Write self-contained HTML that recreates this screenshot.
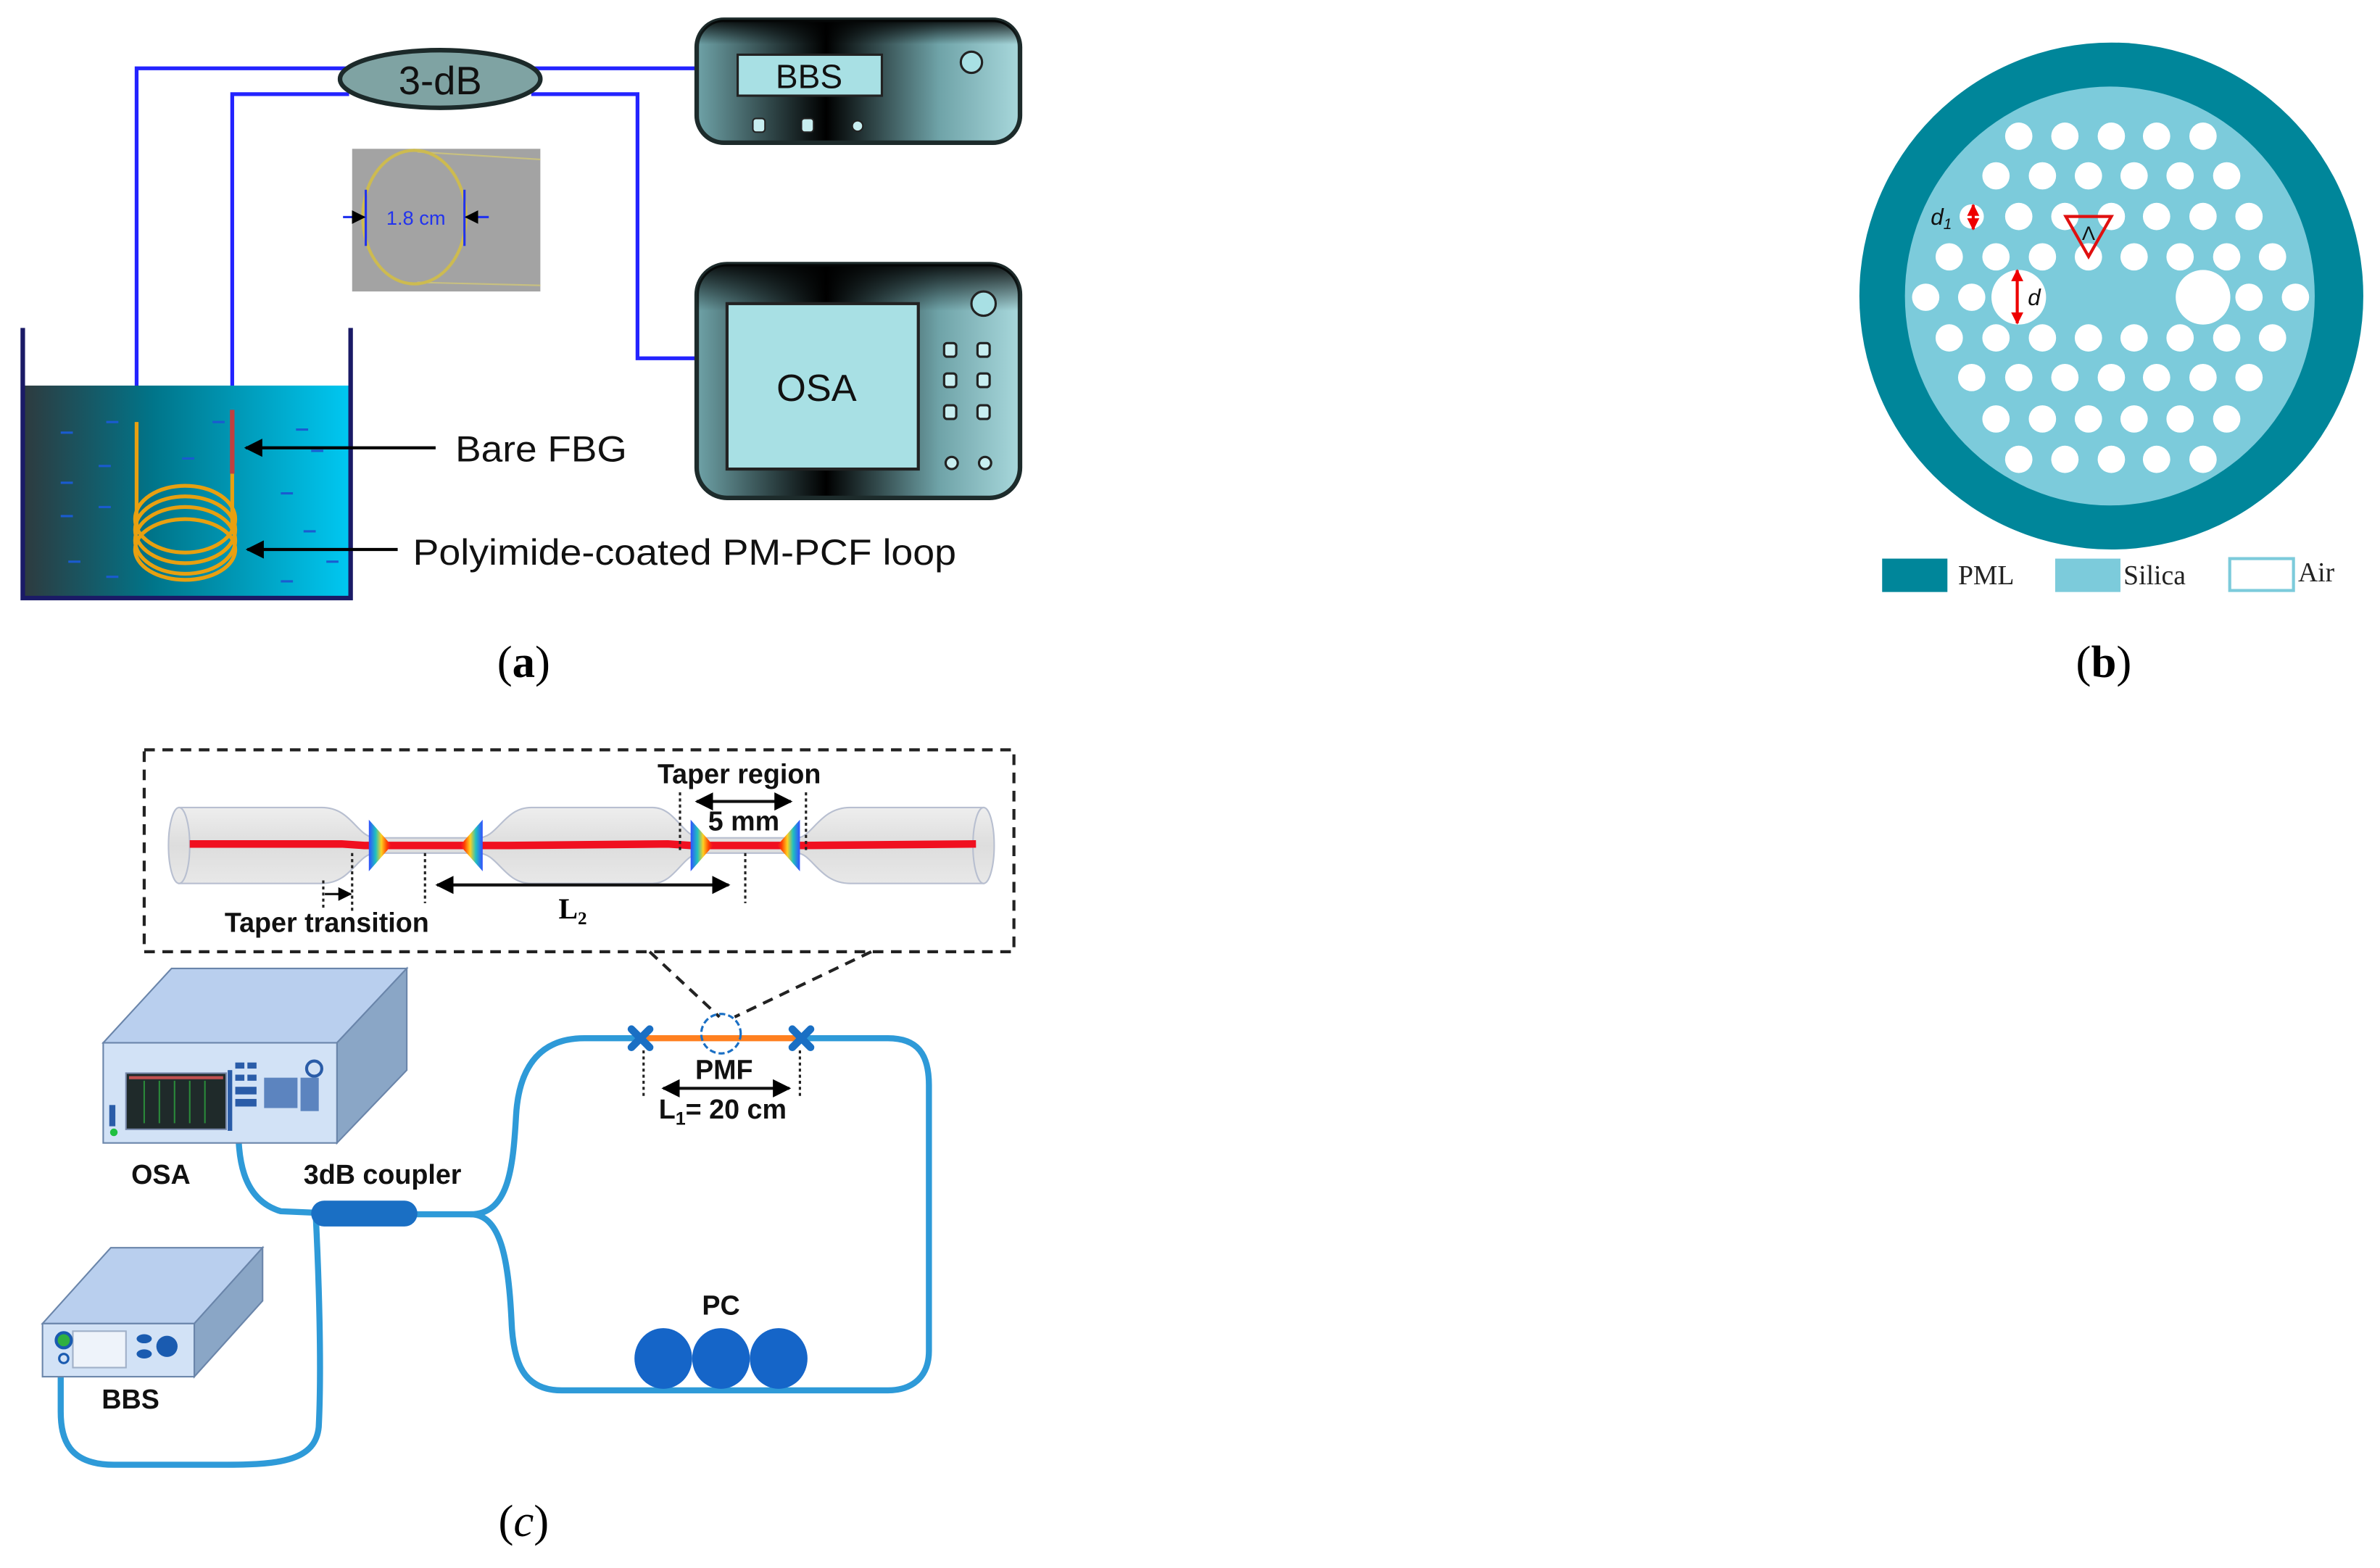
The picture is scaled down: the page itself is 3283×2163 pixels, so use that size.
<!DOCTYPE html>
<html><head><meta charset="utf-8"><style>html,body{margin:0;padding:0;background:#fff}svg{display:block}</style></head>
<body>
<svg width="3283" height="2163" viewBox="0 0 1568 1033" xmlns="http://www.w3.org/2000/svg" font-family="Liberation Sans, sans-serif">
<defs>
<linearGradient id="dev" x1="0" x2="1" y1="0" y2="0"><stop offset="0" stop-color="#6fa3a8"/><stop offset="0.4" stop-color="#000"/><stop offset="0.75" stop-color="#6fa3a8"/><stop offset="1" stop-color="#a8d8dc"/></linearGradient>
<linearGradient id="dev2" x1="0" x2="0" y1="0" y2="1"><stop offset="0" stop-color="#000" stop-opacity="0.9"/><stop offset="0.2" stop-color="#000" stop-opacity="0"/></linearGradient>
<linearGradient id="water" x1="0" x2="1"><stop offset="0" stop-color="#2e3a3e"/><stop offset="0.4" stop-color="#00758a"/><stop offset="1" stop-color="#00c8f2"/></linearGradient>
<linearGradient id="glass" x1="0" x2="0" y1="0" y2="1"><stop offset="0" stop-color="#eee"/><stop offset="0.5" stop-color="#ddd"/><stop offset="1" stop-color="#e8e8e8"/></linearGradient>
<linearGradient id="rb" x1="0" x2="1"><stop offset="0" stop-color="#3050ff"/><stop offset="0.3" stop-color="#20c0c0"/><stop offset="0.55" stop-color="#ffd020"/><stop offset="0.8" stop-color="#ff4000"/><stop offset="1" stop-color="#ff2020" stop-opacity="0"/></linearGradient>
<linearGradient id="rb2" x1="1" x2="0"><stop offset="0" stop-color="#3050ff"/><stop offset="0.3" stop-color="#20c0c0"/><stop offset="0.55" stop-color="#ffd020"/><stop offset="0.8" stop-color="#ff4000"/><stop offset="1" stop-color="#ff2020" stop-opacity="0"/></linearGradient>
<marker id="ah" viewBox="0 0 10 10" refX="9" refY="5" markerWidth="6" markerHeight="6" orient="auto-start-reverse"><path d="M0,0 L10,5 L0,10 z" fill="#000"/></marker>
<marker id="ar" viewBox="0 0 10 10" refX="9" refY="5" markerWidth="4" markerHeight="4" orient="auto-start-reverse"><path d="M0,0 L10,5 L0,10 z" fill="#e00"/></marker>
</defs>

<!-- ===== (a) ===== -->
<g fill="none" stroke="#2323ff" stroke-width="2.5">
<polyline points="90,300 90,45 230,45"/>
<polyline points="350,45 458,45"/>
<polyline points="153,300 153,62 230,62"/>
<polyline points="350,62 420,62 420,236 458,236"/>
</g>
<ellipse cx="290" cy="52" rx="66" ry="19" fill="#7fa3a3" stroke="#1c2a2a" stroke-width="3"/>
<text x="290" y="62" font-size="26" text-anchor="middle" fill="#111">3-dB</text>

<rect x="459" y="13" width="213" height="81" rx="18" fill="url(#dev)" stroke="#1d2b2b" stroke-width="3"/>
<rect x="459" y="13" width="213" height="81" rx="18" fill="url(#dev2)"/>
<rect x="486" y="36" width="95" height="27" fill="#a8e0e4" stroke="#222" stroke-width="1.5"/>
<text x="533" y="58" font-size="22" text-anchor="middle" fill="#111">BBS</text>
<circle cx="640" cy="41" r="7" fill="#a8e0e4" stroke="#222" stroke-width="1.5"/>
<rect x="496" y="78" width="8" height="9" rx="2" fill="#c8eef0" stroke="#222"/>
<rect x="528" y="78" width="8" height="9" rx="2" fill="#c8eef0" stroke="#222"/>
<circle cx="565" cy="83" r="3.5" fill="#c8eef0" stroke="#222"/>

<rect x="459" y="174" width="213" height="154" rx="20" fill="url(#dev)" stroke="#1d2b2b" stroke-width="3"/>
<rect x="459" y="174" width="213" height="154" rx="20" fill="url(#dev2)"/>
<rect x="479" y="200" width="126" height="109" fill="#a8e0e4" stroke="#222" stroke-width="2"/>
<text x="538" y="264" font-size="25" text-anchor="middle" fill="#111">OSA</text>
<circle cx="648" cy="200" r="8" fill="#a8e0e4" stroke="#222" stroke-width="1.5"/>
<g fill="#c8eef0" stroke="#222" stroke-width="1.5">
<rect x="622" y="226" width="8" height="9" rx="2"/><rect x="644" y="226" width="8" height="9" rx="2"/>
<rect x="622" y="246" width="8" height="9" rx="2"/><rect x="644" y="246" width="8" height="9" rx="2"/>
<rect x="622" y="267" width="8" height="9" rx="2"/><rect x="644" y="267" width="8" height="9" rx="2"/>
<circle cx="627" cy="305" r="4"/><circle cx="649" cy="305" r="4"/>
</g>

<rect x="232" y="98" width="124" height="94" fill="#a3a3a3"/>
<path d="M275,100 L356,105 M275,186 L356,188" stroke="#c8c080" stroke-width="1"/>
<ellipse cx="273" cy="143" rx="34" ry="44" fill="none" stroke="#cdbb50" stroke-width="2"/>
<g stroke="#2233ee" stroke-width="1.5" fill="none">
<line x1="241" y1="125" x2="241" y2="162"/><line x1="306" y1="125" x2="306" y2="162"/>
<line x1="226" y1="143" x2="240" y2="143" marker-end="url(#ah)"/>
<line x1="322" y1="143" x2="307" y2="143" marker-end="url(#ah)"/>
</g>
<text x="274" y="148" font-size="13" fill="#2233ee" text-anchor="middle">1.8 cm</text>

<rect x="15" y="254" width="216" height="140" fill="url(#water)"/>
<g stroke="#1a1a66" stroke-width="3" fill="none"><polyline points="15,216 15,394 231,394 231,216"/></g>
<g stroke="#1a5bd0" stroke-width="1.5">
<line x1="40" y1="285" x2="48" y2="285"/><line x1="70" y1="278" x2="78" y2="278"/><line x1="140" y1="278" x2="148" y2="278"/><line x1="195" y1="283" x2="203" y2="283"/>
<line x1="40" y1="318" x2="48" y2="318"/><line x1="65" y1="307" x2="73" y2="307"/><line x1="120" y1="302" x2="128" y2="302"/><line x1="205" y1="297" x2="213" y2="297"/>
<line x1="40" y1="340" x2="48" y2="340"/><line x1="65" y1="334" x2="73" y2="334"/><line x1="185" y1="325" x2="193" y2="325"/><line x1="200" y1="350" x2="208" y2="350"/>
<line x1="45" y1="370" x2="53" y2="370"/><line x1="70" y1="380" x2="78" y2="380"/><line x1="185" y1="383" x2="193" y2="383"/><line x1="215" y1="370" x2="223" y2="370"/>
</g>
<g stroke="#e8a010" stroke-width="2.5" fill="none">
<line x1="90" y1="278" x2="90" y2="352"/><line x1="153" y1="312" x2="153" y2="352"/>
<ellipse cx="122" cy="342" rx="33" ry="22"/><ellipse cx="122" cy="349" rx="33" ry="22"/><ellipse cx="122" cy="356" rx="33" ry="22"/><ellipse cx="122" cy="362" rx="33" ry="20"/>
</g>
<line x1="153" y1="270" x2="153" y2="312" stroke="#c04040" stroke-width="3"/>
<line x1="287" y1="295" x2="162" y2="295" stroke="#000" stroke-width="2" marker-end="url(#ah)"/>
<text x="300" y="304" font-size="24" fill="#111" textLength="113" lengthAdjust="spacingAndGlyphs">Bare FBG</text>
<line x1="262" y1="362" x2="163" y2="362" stroke="#000" stroke-width="2" marker-end="url(#ah)"/>
<text x="272" y="372" font-size="24" fill="#111" textLength="358" lengthAdjust="spacingAndGlyphs">Polyimide-coated PM-PCF loop</text>
<text x="345" y="446" font-size="30" text-anchor="middle" font-family="Liberation Serif, serif">(<tspan font-weight="bold">a</tspan>)</text>

<!-- ===== (b) ===== -->
<ellipse cx="1391" cy="195" rx="166" ry="167" fill="#00869a"/>
<ellipse cx="1390" cy="195" rx="135" ry="138" fill="#7ccbdb"/>
<g fill="#fff">
<g transform="translate(0,89.7)"><circle cx="1330" r="9"/><circle cx="1360.4" r="9"/><circle cx="1391" r="9"/><circle cx="1420.8" r="9"/><circle cx="1451.4" r="9"/></g>
<g transform="translate(0,115.8)"><circle cx="1315" r="9"/><circle cx="1345.6" r="9"/><circle cx="1375.9" r="9"/><circle cx="1406" r="9"/><circle cx="1436.3" r="9"/><circle cx="1467" r="9"/></g>
<g transform="translate(0,142.6)"><circle cx="1299" r="8"/><circle cx="1330" r="9"/><circle cx="1360.4" r="9"/><circle cx="1391" r="9"/><circle cx="1420.8" r="9"/><circle cx="1451.4" r="9"/><circle cx="1481.7" r="9"/></g>
<g transform="translate(0,169.2)"><circle cx="1284.2" r="9"/><circle cx="1315" r="9"/><circle cx="1345.6" r="9"/><circle cx="1375.9" r="9"/><circle cx="1406" r="9"/><circle cx="1436.3" r="9"/><circle cx="1467" r="9"/><circle cx="1497.2" r="9"/></g>
<g transform="translate(0,195.8)"><circle cx="1268.7" r="9"/><circle cx="1299" r="9"/><circle cx="1330" r="18"/><circle cx="1451.4" r="18"/><circle cx="1481.7" r="9"/><circle cx="1512.3" r="9"/></g>
<g transform="translate(0,222.6)"><circle cx="1284.2" r="9"/><circle cx="1315" r="9"/><circle cx="1345.6" r="9"/><circle cx="1375.9" r="9"/><circle cx="1406" r="9"/><circle cx="1436.3" r="9"/><circle cx="1467" r="9"/><circle cx="1497.2" r="9"/></g>
<g transform="translate(0,248.7)"><circle cx="1299" r="9"/><circle cx="1330" r="9"/><circle cx="1360.4" r="9"/><circle cx="1391" r="9"/><circle cx="1420.8" r="9"/><circle cx="1451.4" r="9"/><circle cx="1481.7" r="9"/></g>
<g transform="translate(0,276)"><circle cx="1315" r="9"/><circle cx="1345.6" r="9"/><circle cx="1375.9" r="9"/><circle cx="1406" r="9"/><circle cx="1436.3" r="9"/><circle cx="1467" r="9"/></g>
<g transform="translate(0,302.6)"><circle cx="1330" r="9"/><circle cx="1360.4" r="9"/><circle cx="1391" r="9"/><circle cx="1420.8" r="9"/><circle cx="1451.4" r="9"/></g>
</g>
<polygon points="1361,142.6 1391,142.6 1376,169" fill="none" stroke="#e01010" stroke-width="2"/>
<text x="1376" y="158" font-size="13" text-anchor="middle" fill="#111">Λ</text>
<line x1="1300" y1="135" x2="1300" y2="151" stroke="#e00" stroke-width="2" marker-start="url(#ar)" marker-end="url(#ar)"/>
<text x="1272" y="148" font-size="15" font-style="italic" fill="#111">d<tspan font-size="10" dy="3">1</tspan></text>
<line x1="1329" y1="178" x2="1329" y2="213" stroke="#e00" stroke-width="2" marker-start="url(#ar)" marker-end="url(#ar)"/>
<text x="1336" y="201" font-size="15" font-style="italic" fill="#111">d</text>
<rect x="1240" y="368" width="43" height="22" fill="#00869a"/>
<rect x="1354" y="368" width="43" height="22" fill="#7ccbdb"/>
<rect x="1469" y="368" width="42" height="21" fill="#fff" stroke="#7ccbdb" stroke-width="2"/>
<g font-family="Liberation Serif, serif" font-size="18" fill="#222">
<text x="1290" y="385">PML</text><text x="1399" y="385">Silica</text><text x="1514" y="383">Air</text></g>
<text x="1386" y="446" font-size="30" text-anchor="middle" font-family="Liberation Serif, serif">(<tspan font-weight="bold">b</tspan>)</text>

<!-- ===== (c) ===== -->
<rect x="95" y="494" width="573" height="133" fill="none" stroke="#222" stroke-width="2" stroke-dasharray="7,5"/>
<line x1="428" y1="627" x2="474" y2="670" stroke="#222" stroke-width="2" stroke-dasharray="7,5"/>
<line x1="574" y1="627" x2="484" y2="670" stroke="#222" stroke-width="2" stroke-dasharray="7,5"/>

<g fill="url(#glass)" stroke="#b8bfd0" stroke-width="1">
<path d="M118,532 L212,532 C232,532 235,552 248,552 L315,552 C328,552 332,532 350,532 L430,532 C445,532 450,552 462,552 L525,552 C535,552 540,532 560,532 L648,532 L648,582 L560,582 C540,582 535,562 525,562 L462,562 C450,562 445,582 430,582 L350,582 C332,582 328,562 315,562 L248,562 C235,562 232,582 212,582 L118,582 Z"/>
<ellipse cx="118" cy="557" rx="7" ry="25"/><ellipse cx="648" cy="557" rx="7" ry="25"/>
</g>
<path d="M125,556 L225,556 L240,557 L335,557 L440,556 L455,557 L530,557 L643,556" stroke="#f01020" stroke-width="5" fill="none"/>
<g>
<path d="M243,540 L258,557 L243,574 Z" fill="url(#rb)"/>
<path d="M318,540 L303,557 L318,574 Z" fill="url(#rb2)"/>
<path d="M455,540 L470,557 L455,574 Z" fill="url(#rb)"/>
<path d="M527,540 L512,557 L527,574 Z" fill="url(#rb2)"/>
</g>
<g stroke="#222" stroke-width="1.5" stroke-dasharray="2,2">
<line x1="448" y1="522" x2="448" y2="560"/><line x1="531" y1="522" x2="531" y2="560"/>
<line x1="491" y1="562" x2="491" y2="595"/><line x1="280" y1="562" x2="280" y2="595"/>
<line x1="232" y1="562" x2="232" y2="600"/><line x1="213" y1="580" x2="213" y2="600"/>
</g>
<line x1="459" y1="528" x2="521" y2="528" stroke="#111" stroke-width="2" marker-start="url(#ah)" marker-end="url(#ah)"/>
<line x1="214" y1="589" x2="231" y2="589" stroke="#111" stroke-width="1.5" marker-end="url(#ah)"/>
<line x1="288" y1="583" x2="480" y2="583" stroke="#111" stroke-width="2" marker-start="url(#ah)" marker-end="url(#ah)"/>
<g font-weight="bold" font-size="18" fill="#111">
<text x="487" y="516" text-anchor="middle">Taper region</text>
<text x="490" y="547" text-anchor="middle">5 mm</text>
<text x="148" y="614">Taper transition</text>
</g>
<text x="368" y="605" font-size="19" font-family="Liberation Serif, serif" font-weight="bold">L<tspan font-size="12" dy="4">2</tspan></text>

<g fill="none" stroke="#2e9ad8" stroke-width="4" stroke-linecap="round">
<path d="M272,800 L310,800 C335,800 338,770 340,735 C342,700 358,684 385,684 L422,684"/>
<path d="M528,684 L585,684 C605,684 612,695 612,715 L612,890 C612,908 600,916 585,916 L370,916 C345,916 338,898 337,870 C335,830 330,800 310,800"/>
<path d="M157,740 C157,760 158,790 185,798 L208,799"/>
<path d="M208,800 C210,840 212,900 210,940 C208,962 185,965 150,965 L75,965 C45,965 40,948 40,930 L40,897"/>
</g>
<line x1="422" y1="684" x2="528" y2="684" stroke="#ff8020" stroke-width="4"/>
<rect x="205" y="791" width="70" height="17" rx="8.5" fill="#1a6fc4"/>
<g stroke="#1a6fc4" stroke-width="5" stroke-linecap="round">
<line x1="416" y1="678" x2="428" y2="690"/><line x1="428" y1="678" x2="416" y2="690"/>
<line x1="522" y1="678" x2="534" y2="690"/><line x1="534" y1="678" x2="522" y2="690"/>
</g>
<circle cx="475" cy="681" r="13" fill="none" stroke="#1a6fc4" stroke-width="1.5" stroke-dasharray="4,2"/>
<g stroke="#222" stroke-width="1.5" stroke-dasharray="2,2">
<line x1="424" y1="692" x2="424" y2="722"/><line x1="527" y1="692" x2="527" y2="722"/></g>
<line x1="437" y1="717" x2="520" y2="717" stroke="#111" stroke-width="2" marker-start="url(#ah)" marker-end="url(#ah)"/>
<g font-weight="bold" font-size="18" fill="#111">
<text x="477" y="711" text-anchor="middle">PMF</text>
<text x="434" y="737">L<tspan font-size="12" dy="4">1</tspan><tspan dy="-4">= 20 cm</tspan></text>
<text x="475" y="866" text-anchor="middle">PC</text>
<text x="106" y="780" text-anchor="middle">OSA</text>
<text x="252" y="780" text-anchor="middle">3dB coupler</text>
<text x="86" y="928" text-anchor="middle">BBS</text>
</g>
<g fill="#1565c8"><ellipse cx="437" cy="895" rx="19" ry="20"/><ellipse cx="475" cy="895" rx="19" ry="20"/><ellipse cx="513" cy="895" rx="19" ry="20"/></g>

<g stroke="#6a85aa" stroke-width="1">
<polygon points="68,687 113,638 268,638 222,687" fill="#b9cfee"/>
<polygon points="222,687 268,638 268,705 222,753" fill="#8aa6c6"/>
<rect x="68" y="687" width="154" height="66" fill="#d2e2f6"/>
</g>
<rect x="83" y="707" width="66" height="37" fill="#1f2a2a" stroke="#7788aa"/>
<g stroke="#2a8a3a" stroke-width="1"><line x1="95" y1="712" x2="95" y2="740"/><line x1="105" y1="712" x2="105" y2="740"/><line x1="115" y1="712" x2="115" y2="740"/><line x1="125" y1="712" x2="125" y2="740"/><line x1="135" y1="712" x2="135" y2="740"/></g>
<line x1="85" y1="710" x2="147" y2="710" stroke="#c05050" stroke-width="2"/>
<g fill="#2a5ca8"><rect x="155" y="700" width="6" height="4"/><rect x="163" y="700" width="6" height="4"/><rect x="155" y="708" width="6" height="4"/><rect x="163" y="708" width="6" height="4"/><rect x="155" y="716" width="14" height="5"/><rect x="155" y="724" width="14" height="5"/><rect x="174" y="710" width="22" height="20" fill-opacity="0.7"/><rect x="198" y="710" width="12" height="22" fill-opacity="0.7"/><rect x="150" y="705" width="3" height="40"/><rect x="72" y="728" width="4" height="14"/></g>
<circle cx="207" cy="704" r="5" fill="none" stroke="#2a5ca8" stroke-width="2"/>
<circle cx="75" cy="746" r="2.5" fill="#20c040"/>

<g stroke="#6a85aa" stroke-width="1">
<polygon points="28,872 73,822 173,822 128,872" fill="#b9cfee"/>
<polygon points="128,872 173,822 173,857 128,907" fill="#8aa6c6"/>
<rect x="28" y="872" width="100" height="35" fill="#d2e2f6"/>
</g>
<rect x="48" y="877" width="35" height="24" fill="#eef3fa" stroke="#a0b0c8"/>
<circle cx="42" cy="883" r="5" fill="#30b040" stroke="#1a5bb0" stroke-width="2"/>
<circle cx="42" cy="895" r="3" fill="none" stroke="#1a5bb0" stroke-width="1.5"/>
<ellipse cx="95" cy="882" rx="5" ry="3" fill="#1a5bb0"/><ellipse cx="95" cy="892" rx="5" ry="3" fill="#1a5bb0"/>
<circle cx="110" cy="887" r="7" fill="#1a5bb0"/>

<text x="345" y="1012" font-size="30" text-anchor="middle" font-family="Liberation Serif, serif">(<tspan font-style="italic">c</tspan>)</text>
</svg>
</body></html>
